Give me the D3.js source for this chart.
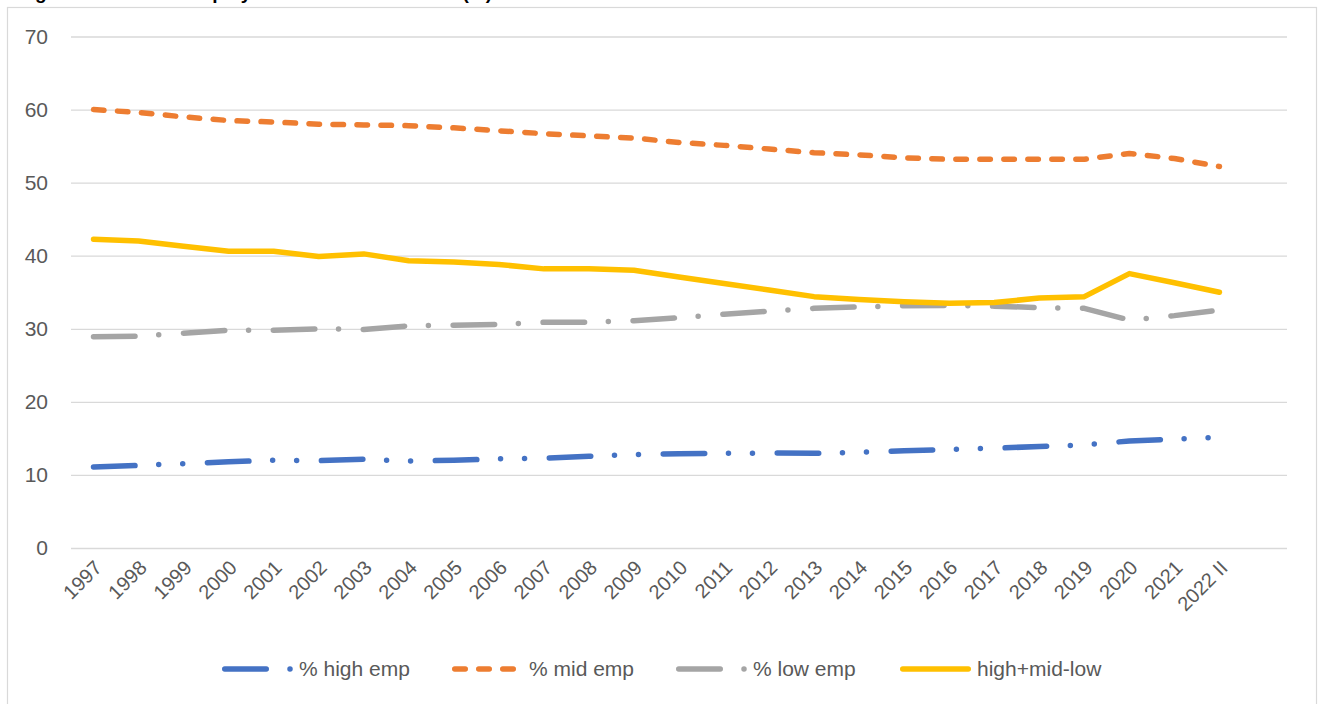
<!DOCTYPE html>
<html>
<head>
<meta charset="utf-8">
<script src="https://cdn.jsdelivr.net/npm/d3@7"></script>
<style>
  html, body { margin: 0; padding: 0; background: #fff; }
  svg { display: block; font-family: "Liberation Sans", Arial, sans-serif; }
</style>
</head>
<body>
<svg id="chart" width="1320" height="704"></svg>
<script>
// Categories (survey years)
const years = ["1997","1998","1999","2000","2001","2002","2003","2004","2005","2006",
  "2007","2008","2009","2010","2011","2012","2013","2014","2015","2016",
  "2017","2018","2019","2020","2021","2022 II"];

// Employment shares, %
const highEmp = [11.1,11.3,11.55,11.8,12.0,11.95,12.15,11.9,12.0,12.2,
  12.3,12.55,12.8,12.9,12.95,13.0,12.95,13.1,13.3,13.5,
  13.65,13.9,14.1,14.65,14.9,15.15];
const midEmp = [60.0,59.6,59.0,58.5,58.3,58.0,57.9,57.8,57.5,57.1,
  56.7,56.4,56.1,55.5,55.1,54.6,54.1,53.8,53.4,53.2,
  53.2,53.2,53.2,54.0,53.3,52.2];
const lowEmp = [28.9,29.0,29.4,29.8,29.8,30.0,29.9,30.4,30.5,30.6,
  30.9,30.9,31.1,31.5,32.0,32.4,32.8,33.0,33.15,33.2,
  33.1,32.9,32.8,31.2,31.8,32.55];
const highMidLow = [42.25,42.0,41.3,40.6,40.6,39.9,40.25,39.3,39.15,38.8,
  38.2,38.2,38.0,37.1,36.2,35.3,34.4,34.0,33.7,33.5,
  33.6,34.2,34.4,37.55,36.3,35.0];

// Axis ticks
const yTicks = [0,10,20,30,40,50,60,70];

// Series names and colours
const seriesNames = ["% high emp","% mid emp","% low emp","high+mid-low"];
const seriesColors = ["#4472C4","#ED7D31","#A5A5A5","#FFC000"];

const titleText = "Figure 1: Share of employment at each skill level (%)";

const svg = d3.select("#chart");

// plot area
const plotL = 71, plotR = 1287, plotT = 36.5, plotB = 548;
const step = (plotR - plotL) / (years.length + 1);

const x = d3.scalePoint().domain(years)
  .range([plotL + step / 2, plotL + step * (years.length - 0.5)]).padding(0);
const y = d3.scaleLinear().domain([0, 70]).range([plotB, plotT]);

// outer frame
svg.append("rect")
  .attr("x", 7.5).attr("y", 7.5)
  .attr("width", 1309).attr("height", 710)
  .attr("fill", "#fff").attr("stroke", "#d9d9d9").attr("stroke-width", 1.2);

// title (sits at the top edge)
svg.append("text")
  .attr("x", 18).attr("y", -1)
  .attr("font-size", 19).attr("font-weight", "bold").attr("fill", "#000")
  .text(titleText);

// y gridlines and labels
const yAxis = svg.append("g")
  .attr("transform", `translate(${plotL},0)`)
  .call(d3.axisLeft(y).tickValues(yTicks).tickSize(-(plotR - plotL)).tickPadding(23));
yAxis.select(".domain").remove();
yAxis.selectAll(".tick line").attr("stroke", "#d9d9d9").attr("stroke-width", 1.3);
yAxis.selectAll(".tick text")
  .attr("font-size", 21).attr("fill", "#595959")
  .attr("font-family", "Liberation Sans, Arial, sans-serif");

// x labels, rotated
const xAxis = svg.append("g")
  .attr("transform", `translate(0,${plotB})`)
  .call(d3.axisBottom(x).tickSize(0).tickPadding(0));
xAxis.select(".domain").remove();
xAxis.selectAll(".tick text")
  .attr("font-size", 20).attr("fill", "#595959")
  .attr("font-family", "Liberation Sans, Arial, sans-serif")
  .attr("text-anchor", "end")
  .attr("x", 0).attr("y", 0).attr("dy", 0)
  .attr("transform", "translate(9,21) rotate(-45)");

// line styles
const dashes = [
  "41.5,23.75,0,24,0,24.75",  // long dash dot dot
  "10.5,13.5",                // dash
  "41.5,23.75,0,24.75",       // long dash dot
  null                        // solid
];
const seriesData = [highEmp, midEmp, lowEmp, highMidLow];

const line = d3.line()
  .x((d, i) => x(years[i]))
  .y(d => y(d));

const lw = 5.5;
seriesData.forEach((vals, k) => {
  svg.append("path")
    .datum(vals)
    .attr("d", line)
    .attr("fill", "none")
    .attr("stroke", seriesColors[k])
    .attr("stroke-width", lw)
    .attr("stroke-linecap", "round")
    .attr("stroke-linejoin", "round")
    .attr("stroke-dasharray", dashes[k]);
});

// legend
const legendY = 669;
const legendX = [222, 452, 676, 900];
const sampleLen = [66.5, 59.25, 66.5, 65.5];
const legend = svg.append("g");
seriesNames.forEach((name, k) => {
  const x0 = legendX[k] + lw / 2;
  legend.append("path")
    .attr("d", d3.line()([[x0, legendY], [x0 + sampleLen[k], legendY]]))
    .attr("fill", "none")
    .attr("stroke", seriesColors[k])
    .attr("stroke-width", lw)
    .attr("stroke-linecap", "round")
    .attr("stroke-dasharray", dashes[k]);
  legend.append("text")
    .attr("x", legendX[k] + 77).attr("y", legendY)
    .attr("dy", "0.35em")
    .attr("font-size", 21).attr("fill", "#595959")
    .text(name);
});
</script>
</body>
</html>
